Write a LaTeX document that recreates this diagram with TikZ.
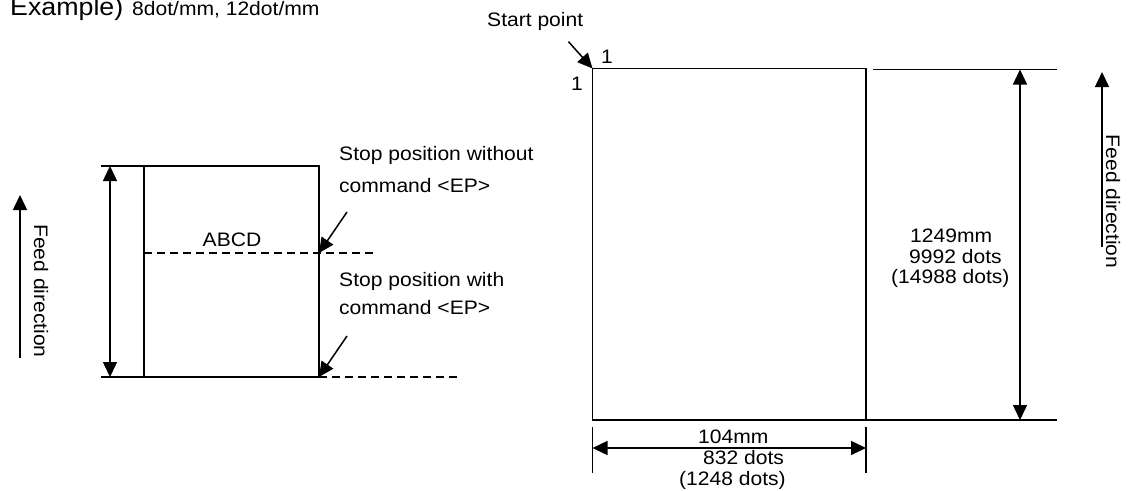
\documentclass[tikz,border=0pt]{standalone}
\usepackage{fontspec}
\setmainfont{Liberation Sans}[FakeStretch=1.08]
\usetikzlibrary{arrows.meta}
\begin{document}
\begin{tikzpicture}[x=1pt,y=-1pt,
  ln/.style={line width=1.5pt},
  tip/.style={Triangle[width=14pt,length=15pt]},
  arr/.style={-{Triangle[width=14pt,length=15pt]}, line width=1.5pt},
  dbl/.style={{Triangle[width=14pt,length=15pt]}-{Triangle[width=14pt,length=15pt]}, line width=1.5pt},
  dsh/.style={dash pattern=on 8pt off 5pt, line width=1.5pt},
  txt/.style={inner sep=0pt, font=\fontsize{19.5}{22}\selectfont}]
\useasboundingbox (0,0) rectangle (1132,490);

% title
\node[txt, anchor=base west, font=\fontsize{24.8}{28}\selectfont] (t1) at (10,15) {Example)};
\node[txt, anchor=base west] (t2) at (132,15) {8dot/mm, 12dot/mm};

% ---- left figure ----
\coordinate (LTL) at (101,166);
\coordinate (LA) at (144,166);
\coordinate (LB) at (319,377);
\coordinate (LBL) at (101,377);
\coordinate (LBD) at (457,377);
\coordinate (LM1) at (144,253);
\coordinate (LM2) at (319,253);
\coordinate (LM3) at (375,253);
\coordinate (LV1) at (110,166);
\coordinate (LV2) at (110,377);
\coordinate (S1) at (347,212);
\coordinate (S2) at (347,336);
\draw[ln] (LTL) -- (LA);
\draw[ln] (LA) rectangle (LB);
\draw[line width=2.2pt] (LBL) -- (LB);
\draw[dsh] (LB) -- (LBD);
\draw[dsh] (LM1) -- (LM3);
\draw[dbl] (LV1) -- (LV2);
\draw[arr] (S1) -- (LM2);
\draw[arr] (S2) -- (LB);
\node[txt, anchor=base] (abcd) at (232,246) {ABCD};
\node[txt, anchor=base west] (sp1a) at (339,160) {Stop position without};
\node[txt, anchor=base west] (sp1b) at (339,192) {command <EP>};
\node[txt, anchor=base west] (sp2a) at (339,286) {Stop position with};
\node[txt, anchor=base west] (sp2b) at (339,314.5) {command <EP>};

% left feed direction
\coordinate (FL1) at (20,358);
\coordinate (FL2) at (20,195);
\draw[arr] (FL1) -- (FL2);
\node[txt, rotate=-90] (fdl) at (41,291) {Feed direction};

% ---- right figure ----
\coordinate (RA) at (592.5,68.5);
\coordinate (RB) at (866,420);
\coordinate (RT1) at (873,69.5);
\coordinate (RT2) at (1057,69.5);
\coordinate (RBR) at (1057,420);
\coordinate (RV1) at (1020,69.5);
\coordinate (RV2) at (1020,420);
\draw[ln] (RA) rectangle (RB);
\draw[ln] (RT1) -- (RT2);
\draw[ln] (RB) -- (RBR);
\draw[dbl] (RV1) -- (RV2);
\node[txt, anchor=base west] (h1) at (910,242) {1249mm};
\node[txt, anchor=base west] (h2) at (909,263) {9992 dots};
\node[txt, anchor=base west] (h3) at (891,283.5) {(14988 dots)};

% start point
\coordinate (SP) at (568.5,41.7);
\draw[arr] (SP) -- (RA);
\node[txt, anchor=base west] (spt) at (487,26) {Start point};
\node[txt, anchor=base] (one1) at (607,63) {1};
\node[txt, anchor=base] (one2) at (577,90) {1};

% bottom dimension
\coordinate (BT1a) at (592.5,427);
\coordinate (BT1b) at (592.5,473);
\coordinate (BT2a) at (866,427);
\coordinate (BT2b) at (866,473);
\coordinate (BW1) at (592.5,448);
\coordinate (BW2) at (866,448);
\draw[ln] (BT1a) -- (BT1b);
\draw[ln] (BT2a) -- (BT2b);
\draw[dbl] (BW1) -- (BW2);
\node[txt, anchor=base west] (w1) at (698,443) {104mm};
\node[txt, anchor=base west] (w2) at (703,464) {832 dots};
\node[txt, anchor=base west] (w3) at (679,485) {(1248 dots)};

% right feed direction
\coordinate (FR1) at (1102,247);
\coordinate (FR2) at (1102,72);
\draw[arr] (FR1) -- (FR2);
\node[txt, rotate=-90] (fdr) at (1113,201.5) {Feed direction};
\end{tikzpicture}
\end{document}
